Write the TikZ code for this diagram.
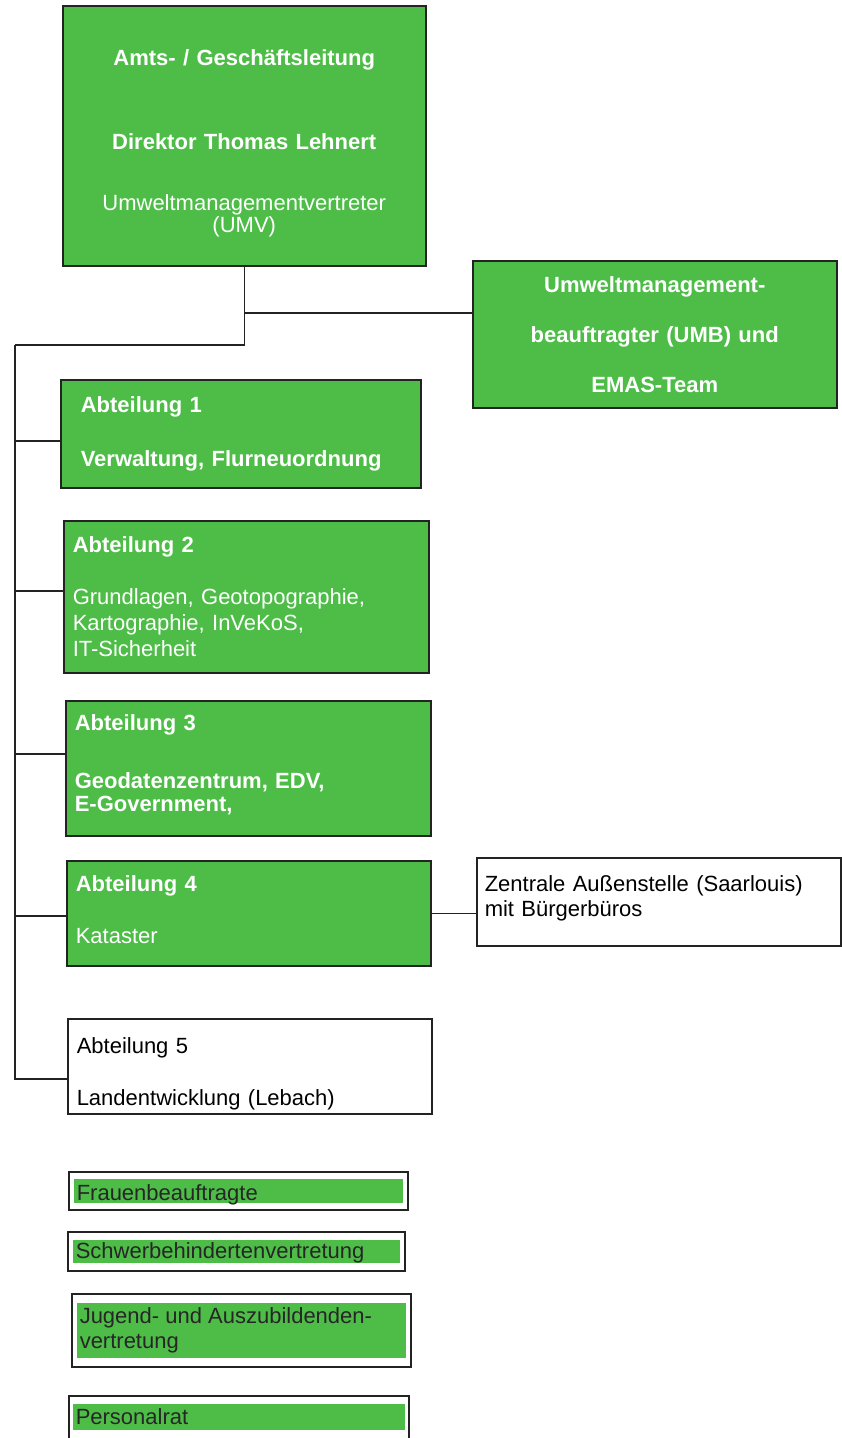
\documentclass[tikz,border=0pt]{standalone}
\usepackage{fontspec}
\setmainfont{Liberation Sans}
\usetikzlibrary{positioning,calc}
\definecolor{amtgreen}{RGB}{78,189,72}
\definecolor{rahmen}{RGB}{35,35,35}
\newcommand{\gruenband}[3]{{\setlength{\fboxsep}{0pt}\colorbox{amtgreen}{\parbox[c][#2][c]{#1}{\raggedright\leftskip=3pt #3}}}}

\begin{document}
\begin{tikzpicture}[x=1pt,y=-1pt,
	gbox/.style={draw=rahmen,line width=1.5pt,fill=amtgreen,text=white,anchor=north west,align=left,inner xsep=9pt,inner ysep=0pt,font=\fontsize{22}{26}\selectfont},
	wbox/.style={gbox,fill=white,text=black},
	rbox/.style={draw=rahmen,line width=1.5pt,fill=white,text=black!85,anchor=north west,inner sep=0pt,font=\fontsize{22}{25}\selectfont},
	conn/.style={draw=rahmen,line width=1.5pt}]
	\useasboundingbox (0,0) rectangle (842,1438);

	\node[gbox,align=center,text width=343pt,inner xsep=10pt,minimum height=260pt] at (62,5) (amt)
		{\mbox{}\\[6pt]\textbf{Amts- / Geschäftsleitung}\\[58pt]\textbf{Direktor Thomas Lehnert}\\[35pt]Umweltmanagementvertreter\\[-4pt](UMV)};
	\node[gbox,align=center,text width=344pt,inner xsep=10pt,minimum height=147pt,font=\fontsize{22}{26}\selectfont\bfseries] at (472,260) (umb)
		{Umweltmanagement-\\[24pt]beauftragter (UMB) und\\[24pt]EMAS-Team};

	\node[gbox,text width=320pt,inner xsep=20pt,minimum height=108pt,font=\fontsize{22}{26}\selectfont\bfseries] at (60,379) (abt1)
		{Abteilung 1\\[28pt]Verwaltung, Flurneuordnung};
	\node[gbox,text width=347pt,minimum height=152pt] at (63,520) (abt2)
		{\textbf{Abteilung 2}\\[26pt]Grundlagen, Geotopographie,\\Kartographie, InVeKoS,\\IT-Sicherheit};
	\node[gbox,text width=347pt,minimum height=135pt,font=\fontsize{22}{26}\selectfont\bfseries] at (65,700) (abt3)
		{Abteilung 3\\[32pt]Geodatenzentrum, EDV,\\[-3pt]E-Government,\\[-16pt]\mbox{}};
	\node[gbox,text width=346pt,minimum height=105pt] at (66,860) (abt4)
		{\textbf{Abteilung 4}\\[26pt]Kataster\\[-18pt]\mbox{}};
	\node[wbox,text width=348pt,inner xsep=8pt,minimum height=88pt] at (476,857) (aussen)
		{Zentrale Außenstelle (Saarlouis)\\[-1pt]mit Bürgerbüros\\[-14pt]\mbox{}};
	\node[wbox,text width=346pt,minimum height=95pt] at (67,1018) (abt5)
		{\mbox{}\\[6pt]Abteilung 5\\[26pt]Landentwicklung (Lebach)};

	% Vertretungen
	\node[rbox,inner xsep=5pt,inner ysep=7pt] at (68,1171) (frau) {\gruenband{329pt}{24pt}{\raisebox{-4pt}[\height][\depth]{Frauenbeauftragte}}};
	\node[rbox,inner xsep=5pt,inner ysep=8pt] at (67,1231) (schwer) {\gruenband{327pt}{23pt}{\raisebox{-2pt}[\height][\depth]{Schwerbehindertenvertretung}}};
	\node[rbox,inner xsep=5pt,inner ysep=9pt] at (71,1293) (jav) {\gruenband{329pt}{55pt}{Jugend- und Auszubildenden-\\vertretung}};
	\node[rbox,inner xsep=4pt,inner ysep=8pt] at (68,1395) (prat) {\gruenband{332pt}{26pt}{Personalrat}\rule[-30pt]{0pt}{1pt}};

	% Linien
	\coordinate (knee) at (15,345);
	\coordinate (umbin) at ([yshift=21.5pt]umb.west);
	\draw[conn] (amt.south) |- (knee);
	\draw[conn] (amt.south |- umbin) -- (umbin);
	\foreach \n/\dy in {abt1/-7,abt2/6,abt3/14.5,abt4/-2.5}
		\draw[conn] ([yshift=\dy pt]\n.west) -- ([yshift=\dy pt]\n.west -| knee);
	\draw[conn] (knee) |- ([yshift=-12.5pt]abt5.west);
	\draw[conn] (abt4.east) -- (abt4.east -| aussen.west);
\end{tikzpicture}
\end{document}
